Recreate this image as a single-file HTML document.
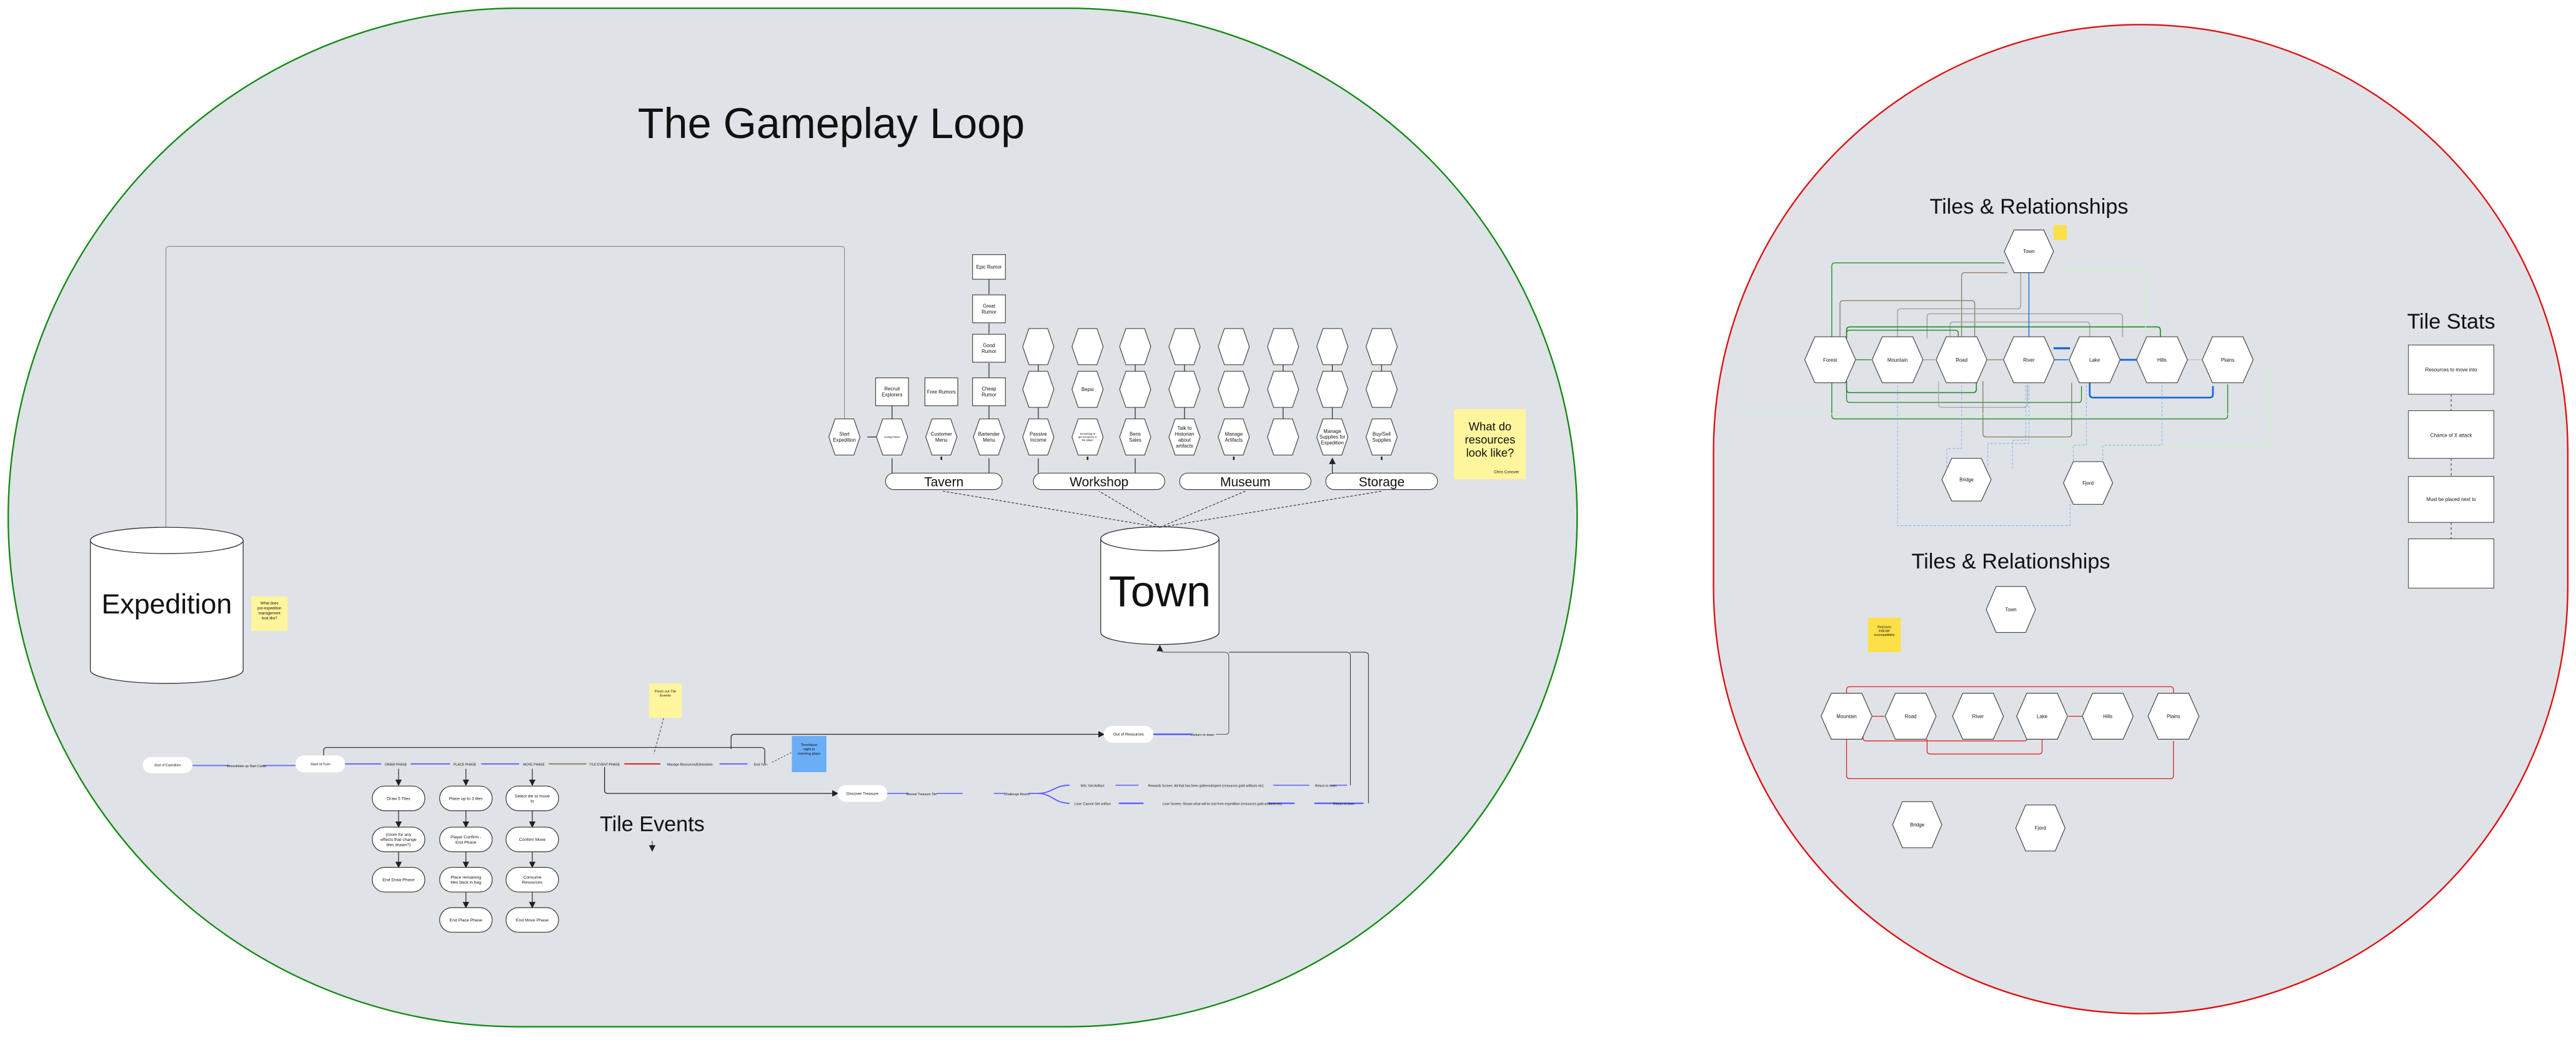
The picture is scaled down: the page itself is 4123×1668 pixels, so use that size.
<!DOCTYPE html>
<html><head><meta charset="utf-8"><style>
html,body{margin:0;padding:0;background:#fff;width:4123px;height:1668px;overflow:hidden}
svg{display:block}
text{font-family:"Liberation Sans",sans-serif;fill:#111}
</style></head><body>
<svg id="s" width="4123" height="1668" viewBox="0 0 1568 634.3" preserveAspectRatio="none">
<defs>
<marker id="ar" markerWidth="4" markerHeight="4" refX="3.5" refY="2" orient="auto" markerUnits="userSpaceOnUse"><path d="M0,0L4,2L0,4z" fill="#222"/></marker>
</defs>
<rect x="0" y="0" width="1568" height="634.3" fill="#fff"/>
<rect x="5" y="5" width="955" height="620" rx="310" ry="310" fill="#dfe2e7" stroke="#138a13" stroke-width="0.9"/>
<rect x="1043" y="15" width="520" height="602" rx="260" ry="260" fill="#dfe2e7" stroke="#e01010" stroke-width="0.9"/>
<text x="506" y="84" font-size="26" text-anchor="middle">The Gameplay Loop</text>

<path d="M101,321 V152 Q101,150 103,150 H512 Q514,150 514,152 V256" fill="none" stroke="#888" stroke-width="0.4" marker-start="url(#ar)"/>

<g>
<path d="M55,329 V408 A46.5,8 0 0 0 148,408 V329" fill="#fff" stroke="#333" stroke-width="0.5"/>
<ellipse cx="101.5" cy="329" rx="46.5" ry="8" fill="#fff" stroke="#333" stroke-width="0.5"/>
<text x="101.5" y="373.5" font-size="17" text-anchor="middle">Expedition</text>
</g>
<g>
<rect x="153" y="363" width="22" height="21" fill="#fff59d"/>
<text x="164" y="368" font-size="2.3" text-anchor="middle">What does</text>
<text x="164" y="371" font-size="2.3" text-anchor="middle">pre-expedition</text>
<text x="164" y="374" font-size="2.3" text-anchor="middle">management</text>
<text x="164" y="377" font-size="2.3" text-anchor="middle">look like?</text>
</g>

<g>
<path d="M670,328 V385 A36,7.3 0 0 0 742,385 V328" fill="#fff" stroke="#333" stroke-width="0.5"/>
<ellipse cx="706" cy="328" rx="36" ry="7.3" fill="#fff" stroke="#333" stroke-width="0.5"/>
<text x="706" y="369" font-size="26.6" text-anchor="middle">Town</text>
</g>
<g stroke="#222" stroke-width="0.4" stroke-dasharray="1.5,1" fill="none">
<path d="M706,321 L574,299"/><path d="M706,321 L669,299"/><path d="M706,321 L758,299"/><path d="M706,321 L841,299"/>
</g>
<g>
<rect x="885" y="249" width="43.7" height="42.7" fill="#fff59d"/>
<text x="907" y="262" font-size="7" text-anchor="middle">What do</text>
<text x="907" y="270" font-size="7" text-anchor="middle">resources</text>
<text x="907" y="278" font-size="7" text-anchor="middle">look like?</text>
<text x="917" y="288" font-size="2.4" text-anchor="middle">Chris Conover</text>
</g>

<g id="townMenu"></g>
<g id="flow"></g>
<g id="tiles"></g>

<text x="1492" y="200" font-size="13" text-anchor="middle">Tile Stats</text>
<g stroke="#333" stroke-width="0.4" stroke-dasharray="1.5,1.5"><path d="M1492,240V250M1492,279V290M1492,318V328"/></g>
<g><rect x="1466" y="210" width="52" height="30" fill="#fff" stroke="#444" stroke-width="0.4"/><text x="1492" y="226" font-size="3" text-anchor="middle">Resources to move into</text></g>
<g><rect x="1466" y="250" width="52" height="29" fill="#fff" stroke="#444" stroke-width="0.4"/><text x="1492" y="266" font-size="3" text-anchor="middle">Chance of X attack</text></g>
<g><rect x="1466" y="290" width="52" height="28" fill="#fff" stroke="#444" stroke-width="0.4"/><text x="1492" y="305" font-size="3" text-anchor="middle">Must be placed next to</text></g>
<g><rect x="1466" y="328" width="52" height="30" fill="#fff" stroke="#444" stroke-width="0.4"/></g>
</svg>
<script>
var NS="http://www.w3.org/2000/svg";
function mk(parent,tag,attrs,txt){var e=document.createElementNS(NS,tag);for(var k in attrs)e.setAttribute(k,attrs[k]);if(txt!==undefined)e.textContent=txt;parent.appendChild(e);return e;}
function hexPts(cx,cy,w,h){return [[cx-w*0.3,cy-h/2],[cx+w*0.3,cy-h/2],[cx+w/2,cy],[cx+w*0.3,cy+h/2],[cx-w*0.3,cy+h/2],[cx-w/2,cy]].map(function(p){return p[0].toFixed(1)+","+p[1].toFixed(1)}).join(" ");}
function lines(g,x,y,arr,fs){var n=arr.length;for(var i=0;i<n;i++){mk(g,"text",{x:x,y:y+(i-(n-1)/2)*fs*1.2+fs*0.35,"font-size":fs,"text-anchor":"middle"},arr[i]);}}

var tm=document.getElementById("townMenu");
var menuX=[514,543,573,602,632,662,691,721,751,781,811,841];
var menuLabels=[["Start","Expedition"],["Lounge Menu"],["Customer","Menu"],["Bartender","Menu"],["Passive","Income"],["Something to","get resources to","the player"],["Beris","Sales"],["Talk to","Historian","about","artifacts"],["Manage","Artifacts"],[],["Manage","Supplies for","Expedition"],["Buy/Sell","Supplies"]];
var midLabels=["","Bepsi","","","","","",""];
var pills=[["Tavern",539,610],["Workshop",629,709],["Museum",718,798],["Storage",807,875]];
mk(tm,"path",{d:"M528,266H534M543,255V247M602,255V247M602,230V221M602,203V197M602,179V170M632,255V248M632,226V222M691,255V248M691,226V222M721,255V248M721,226V222M781,255V248M781,226V222M811,255V248M811,226V222M841,226V222",stroke:"#222","stroke-width":"0.45",fill:"none"});
mk(tm,"path",{d:"M543,288V279M602,288V279M632,288V279M691,288V279M811,288V279",stroke:"#222","stroke-width":"0.45",fill:"none","marker-end":"url(#ar)"});
mk(tm,"path",{d:"M573,280V278M662,280V278M751,280V278M841,280V278",stroke:"#222","stroke-width":"1",fill:"none"});
var i;
for(i=0;i<menuX.length;i++){
  var g=mk(tm,"g",{});
  
  
  mk(g,"polygon",{points:hexPts(menuX[i],266,19,22),fill:"#fff",stroke:"#444","stroke-width":"0.45"});
  lines(g,menuX[i],266,menuLabels[i],i==1||i==5?1.6:3);
}
for(i=4;i<menuX.length;i++){
  var g2=mk(tm,"g",{});
  
  
  mk(g2,"polygon",{points:hexPts(menuX[i],237,19,22),fill:"#fff",stroke:"#444","stroke-width":"0.45"});
  if(midLabels[i-4])lines(g2,menuX[i],237,[midLabels[i-4]],3);
  var g3=mk(tm,"g",{});
  
  
  mk(g3,"polygon",{points:hexPts(menuX[i],211,19,22),fill:"#fff",stroke:"#444","stroke-width":"0.45"});
}
var boxes=[[543,238.5,["Recruit","Explorers"]],[573,238.5,["Free Rumors"]],[602,238.5,["Cheap","Rumor"]],[602,212,["Good","Rumor"]],[602,188,["Great","Rumor"]],[602,162.5,["Epic Rumor"]]];
for(i=0;i<boxes.length;i++){
  var b=mk(tm,"g",{});
  
  
  var hh=i==5?15:17;
  mk(b,"rect",{x:boxes[i][0]-10,y:boxes[i][1]-hh/2,width:20,height:hh,fill:"#fff",stroke:"#444","stroke-width":"0.45"});
  lines(b,boxes[i][0],boxes[i][1],boxes[i][2],3);
}
for(i=0;i<pills.length;i++){
  var p=mk(tm,"g",{});
  
  
  mk(p,"rect",{x:pills[i][1],y:288,width:pills[i][2]-pills[i][1],height:10,rx:5,fill:"#fff",stroke:"#444","stroke-width":"0.45"});
  mk(p,"text",{x:(pills[i][1]+pills[i][2])/2,y:296,"font-size":"8","text-anchor":"middle"},pills[i][0]);
}

var fl=document.getElementById("flow");
function pill(x,y,w,h,t,fs,name){var g=mk(fl,"g",{});mk(g,"rect",{x:x,y:y,width:w,height:h,rx:h/2,fill:"#fff",stroke:"#fff","stroke-width":"0.3"});mk(g,"text",{x:x+w/2,y:y+h/2+fs*0.35,"font-size":fs,"text-anchor":"middle"},t);return g;}
mk(fl,"path",{d:"M197,465 V457 Q197,455 199,455 H463 Q465.5,455 465.5,457 V465",fill:"none",stroke:"#333","stroke-width":"0.5"});
mk(fl,"path",{d:"M445,456 V449 Q445,447 447,447 H672",fill:"none",stroke:"#333","stroke-width":"0.5","marker-end":"url(#ar)"});
mk(fl,"path",{d:"M117,466 H140 M160,466 H180",fill:"none",stroke:"#5b5bff","stroke-width":"0.6"});
pill(87,461,30,9.5,"Start of Expedition",2,"start-of-expedition");
mk(fl,"text",{x:150,y:467,"font-size":"2","text-anchor":"middle"},"Consolidate up Start Cards");
pill(180,460,30,10,"Start of Turn",2.2,"start-of-turn");
var phaseSegX=[210,232,250,274,293,316,334,357,380,402,438,455];
var phaseSegC=["#5b5bff","#5b5bff","#5b5bff","#8a7a60","#e01010","#5b5bff"];
for(i=0;i<6;i++){mk(fl,"path",{d:"M"+phaseSegX[2*i]+",465H"+phaseSegX[2*i+1],stroke:phaseSegC[i],"stroke-width":"0.7"});}
var phaseLabels=[["DRAW PHASE",241],["PLACE PHASE",283],["MOVE PHASE",325],["TILE EVENT PHASE",368],["Manage Resources/Elimination",420],["End Turn",463]];
for(i=0;i<phaseLabels.length;i++)mk(fl,"text",{x:phaseLabels[i][1],y:466,"font-size":"2","text-anchor":"middle"},phaseLabels[i][0]);
var cols=[[242.6,["Draw 5 Tiles"],["(room for any","effects that change","tiles drawn?)"],["End Draw Phase"]],[283.6,["Place up to 3 tiles"],["Player Confirm -","End Phase"],["Place remaining","tiles back in bag"],["End Place Phase"]],[324,["Select tile to move","to"],["Confirm Move"],["Consume","Resources"],["End Move Phase"]]];
var rowY=[486,511,535.5,560];
for(i=0;i<cols.length;i++){
  var cx=cols[i][0],n=cols[i].length-1;
  mk(fl,"path",{d:"M"+cx+",468V478",stroke:"#222","stroke-width":"0.45","marker-end":"url(#ar)"});
  for(var j=0;j<n;j++){
    if(j>0)mk(fl,"path",{d:"M"+cx+","+(rowY[j-1]+7.5)+"V"+(rowY[j]-7.5),stroke:"#222","stroke-width":"0.45","marker-end":"url(#ar)"});
    var g=mk(fl,"g",{});
    
    
    mk(g,"rect",{x:cx-16,y:rowY[j]-7.5,width:32,height:15,rx:7.5,fill:"#fff",stroke:"#333","stroke-width":"0.45"});
    lines(g,cx,rowY[j],cols[i][j+1],2.6);
  }
}
mk(fl,"text",{x:397,y:506,"font-size":"13","text-anchor":"middle"},"Tile Events");
mk(fl,"path",{d:"M397,512V518",stroke:"#222","stroke-width":"0.4","marker-end":"url(#ar)"});
mk(fl,"path",{d:"M404,437 L398,459",stroke:"#333","stroke-width":"0.35","stroke-dasharray":"1.5,1",fill:"none"});
mk(fl,"path",{d:"M470,464 L482,458",stroke:"#333","stroke-width":"0.35","stroke-dasharray":"1,1",fill:"none"});
var s1=mk(fl,"g",{});
mk(s1,"rect",{x:395,y:416,width:20,height:21,fill:"#fff59d"});lines(s1,405,422,["Flesh out Tile","Events"],2.2);
var s2=mk(fl,"g",{});
mk(s2,"rect",{x:482,y:448,width:21,height:22,fill:"#6aaef5"});lines(s2,492.5,456,["Timelapse","night to","morning plays"],2.2);
mk(fl,"path",{d:"M368,467 V481 Q368,483 370,483 H510",fill:"none",stroke:"#222","stroke-width":"0.5","marker-end":"url(#ar)"});
pill(672,442,30,10,"Out of Resources",2.4,"out-of-resources");
mk(fl,"path",{d:"M702,447H725",stroke:"#5b5bff","stroke-width":"1"});
mk(fl,"text",{x:732,y:448,"font-size":"2.2","text-anchor":"middle"},"Return to town");
mk(fl,"path",{d:"M740,447H746Q748,447 748,445V400Q748,397 745,397H709Q706,397 706,395V393",fill:"none",stroke:"#666","stroke-width":"0.45"});
mk(fl,"path",{d:"M822,478V399Q822,397 819,397H748 M833,489V399Q833,397 830,397H822",fill:"none",stroke:"#444","stroke-width":"0.45"});
mk(fl,"path",{d:"M706,396V393",stroke:"#222","stroke-width":"0.5","marker-end":"url(#ar)"});
pill(510,478,30,10,"Discover Treasure",2.4,"discover-treasure");
mk(fl,"path",{d:"M540,483H553M570,483H586M605,483H612",stroke:"#5b5bff","stroke-width":"0.6"});
mk(fl,"text",{x:561,y:484,"font-size":"2","text-anchor":"middle"},"Reveal Treasure Tile");
mk(fl,"text",{x:619,y:484,"font-size":"2","text-anchor":"middle"},"Challenge Round");
mk(fl,"path",{d:"M626,483H632C640,483 642,478 651,478 M632,483C640,483 642,489 651,489",fill:"none",stroke:"#5b5bff","stroke-width":"0.7"});
mk(fl,"text",{x:665,y:479,"font-size":"2","text-anchor":"middle"},"Win: Get Artifact");
mk(fl,"path",{d:"M679,478H693M775,478H797M810,478H820",stroke:"#5b5bff","stroke-width":"0.6"});
mk(fl,"text",{x:734,y:479,"font-size":"2","text-anchor":"middle"},"Rewards Screen: All that has been gathered/spent (resources gold artifacts etc)");
mk(fl,"text",{x:807,y:479,"font-size":"2","text-anchor":"middle"},"Return to town");
mk(fl,"text",{x:665,y:490,"font-size":"2","text-anchor":"middle"},"Lose: Cannot Get artifact");
mk(fl,"path",{d:"M681,489H696M772,489H788M800,489H830",stroke:"#5b5bff","stroke-width":"0.9"});
mk(fl,"text",{x:744,y:490,"font-size":"2","text-anchor":"middle"},"Lose Screen: Shows what will be lost from expedition (resources gold artifacts etc)");
mk(fl,"text",{x:818,y:490,"font-size":"2","text-anchor":"middle"},"Return to town");

var tl=document.getElementById("tiles");
mk(tl,"text",{x:1235,y:130,"font-size":"13","text-anchor":"middle"},"Tiles & Relationships");
var topRowX=[1114,1155,1194,1235,1275,1316,1356];
var topRowN=["Forest","Mountain","Road","River","Lake","Hills","Plains"];
var rel=[
["M1120,206V185Q1120,183 1122,183H1200Q1202,183 1202,185V218","#8a7a60",0.5],
["M1115,206V162Q1115,160 1117,160H1220","#1a8a1a",0.5],
["M1194,206V168Q1194,166 1196,166H1222","#8a7a60",0.5],
["M1155,206V190Q1155,188 1157,188H1228Q1230,188 1230,186V166","#999",0.5],
["M1173,206V193Q1173,191 1175,191H1290Q1292,191 1292,193V205","#999",0.5],
["M1187,211V198Q1187,196 1189,196H1270Q1272,196 1272,198V205","#aaa",0.6],
["M1124,206V201Q1124,199 1126,199H1313Q1315,199 1315,201V205","#1a8a1a",0.6],
["M1124,206V203Q1124,201 1126,201H1190Q1192,201 1192,203V206","#1a8a1a",0.5],
["M1129,219H1139","#1a8a1a",0.5],["M1170,219H1178","#999",0.5],["M1210,219H1219","#8a7a60",0.5],
["M1250,219H1259","#1166dd",0.6],["M1260,212H1250","#1166dd",1.2],["M1290,219H1301","#1166dd",1.1],["M1331,219H1341","#bbb",0.5],
["M1235,206V144","#1166dd",0.5],
["M1124,232V237Q1124,239 1126,239H1201Q1203,239 1203,237V232","#1a8a1a",0.6],
["M1124,232V243Q1124,245 1126,245H1265Q1267,245 1267,243V235","#1a8a1a",0.5],
["M1272,232V240Q1272,242 1274,242H1345Q1347,242 1347,240V235","#1166dd",1],
["M1115,232V253Q1115,255 1117,255H1354Q1356,255 1356,253V234","#1a8a1a",0.5],
["M1180,232V246Q1180,248 1182,248H1232Q1234,248 1234,246V234","#aaa",0.5],
["M1207,232V264Q1207,266 1209,266H1259Q1261,266 1261,264V233","#8a7a60",0.5],
["M1250,165H1306V219","#ccf2cc",0.4],["M1058,219V252H1380V222","#ccf2cc",0.4],["M1238,272H1382V225","#ccf2cc",0.4],
["M1235,232V270H1210V285","#79aef0",0.35,"1.5,1"],["M1194,232V273H1185V285","#79aef0",0.35,"1.5,1"],
["M1233,232V268H1225V285","#79aef0",0.35,"1.5,1"],["M1155,232V320H1260V305","#79aef0",0.35,"1.5,1"],
["M1316,232V271H1280V290","#79aef0",0.35,"1.5,1"],["M1270,232V271H1262V290","#79aef0",0.35,"1.5,1"]
];
for(i=0;i<rel.length;i++){var a={d:rel[i][0],stroke:rel[i][1],"stroke-width":rel[i][2],fill:"none"};if(rel[i][3])a["stroke-dasharray"]=rel[i][3];var pth=mk(tl,"path",a);}
function tile(cx,cy,label,w,h){var g=mk(tl,"g",{});mk(g,"polygon",{points:hexPts(cx,cy,w,h),fill:"#fff",stroke:"#444","stroke-width":"0.45"});mk(g,"text",{x:cx,y:cy+1.1,"font-size":"3","text-anchor":"middle"},label);}
for(i=0;i<topRowX.length;i++)tile(topRowX[i],219,topRowN[i],31,28);
tile(1235,153,"Town",30,26);
tile(1197,292,"Bridge",30,26);tile(1271,294,"Fjord",30,26);
var sk=mk(tl,"g",{});
mk(sk,"rect",{x:1250,y:137,width:8,height:9,fill:"#fde047"});

mk(tl,"text",{x:1224,y:346,"font-size":"13","text-anchor":"middle"},"Tiles & Relationships");
var botRowX=[1124,1163,1204,1243,1283,1323];
var botRowN=["Mountain","Road","River","Lake","Hills","Plains"];
var red=["M1124,423V420Q1124,418 1126,418H1321Q1323,418 1323,420V423","M1124,449V472Q1124,474 1126,474H1321Q1323,474 1323,472V451","M1138,436H1147","M1268,436H1259","M1238,443H1236Q1234,443 1234,445V449Q1234,451 1232,451H1136Q1134,451 1134,449V446","M1243,449V457Q1243,459 1241,459H1175Q1173,459 1173,457V450"];
for(i=0;i<red.length;i++){var rp=mk(tl,"path",{d:red[i],stroke:"#e01010","stroke-width":"0.45",fill:"none"});}
for(i=0;i<botRowX.length;i++)tile(botRowX[i],436,botRowN[i],31,28);
tile(1224,371,"Town",30,28);
tile(1167,502,"Bridge",30,28);tile(1242,504,"Fjord",30,28);
var sk2=mk(tl,"g",{});
mk(sk2,"rect",{x:1137,y:376,width:20,height:21,fill:"#fde047"});lines(sk2,1147,384,["Red lines","indicate","incompatibility"],2);
</script>
</body></html>
